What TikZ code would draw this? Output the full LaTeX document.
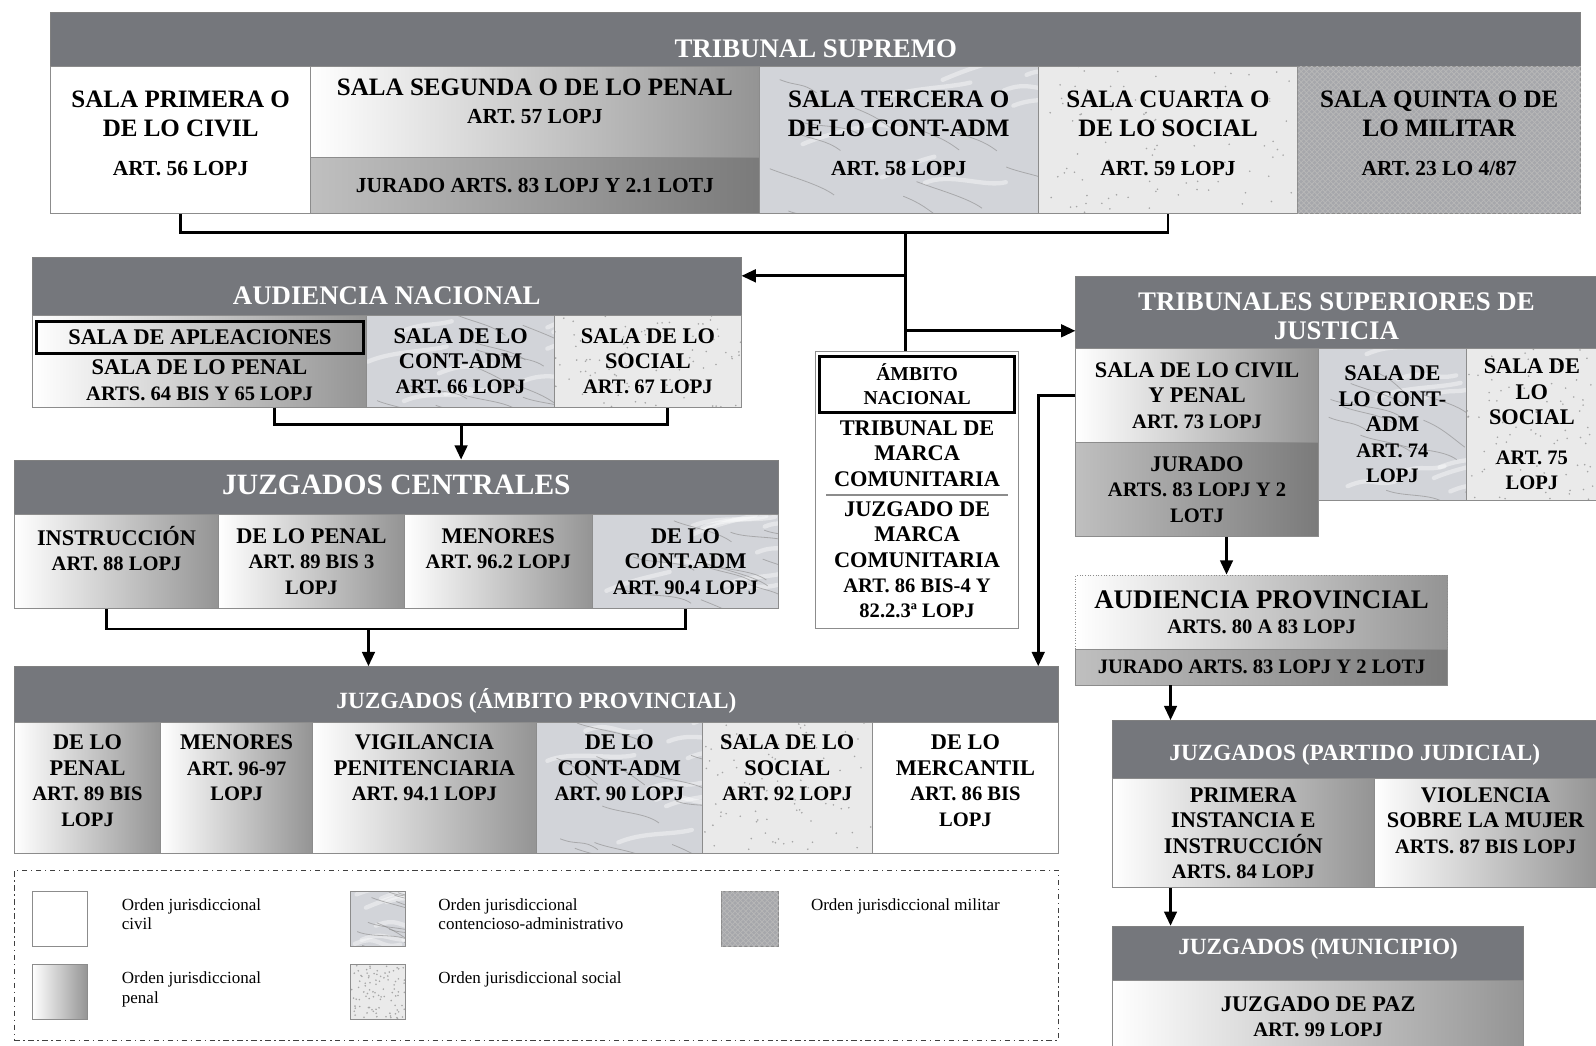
\documentclass[tikz,border=0pt]{standalone}
\usepackage{fontspec}
\setmainfont{Liberation Serif}
\usepackage{tikz}
\usetikzlibrary{arrows.meta,fit,positioning,calc,patterns}

\definecolor{headgray}{RGB}{117,119,124}
\definecolor{marblebase}{RGB}{210,212,217}
\definecolor{socialbase}{RGB}{234,234,234}
\definecolor{militarbase}{RGB}{166,167,171}

\newcommand\hdfont{\fontsize{15}{16.5}\selectfont\bfseries}
\newcommand\jcfont{\fontsize{16.5}{18}\selectfont\bfseries}
\newcommand\subhdfont{\fontsize{13}{14.5}\selectfont\bfseries}
\newcommand\bigcellfont{\fontsize{14}{16}\selectfont\bfseries}
\newcommand\cellfont{\fontsize{12.5}{14.2}\selectfont\bfseries}
\newcommand\artsize{\fontsize{11.5}{13}\selectfont}
\newcommand\bigart{\fontsize{12}{14}\selectfont}
\newcommand\legfont{\fontsize{9.5}{10.8}\selectfont}

% marble veins (contencioso-administrativo)
\newcommand\marblefx{%
  \foreach \k in {1,...,9}{%
    \draw[white, line width=2.4pt, opacity=.4, line cap=round]
      let \p1=(path picture bounding box.south west),
          \p2=(path picture bounding box.north east) in
      ({\x1+rnd*(\x2-\x1)},{\y1+rnd*(\y2-\y1)})
        .. controls +(14pt,6pt) and +(-12pt,-3pt) .. +({25pt+25pt*rnd},{14pt*rnd-2pt});
  }%
  \foreach \k in {1,...,11}{%
    \draw[black!45, line width=.45pt, opacity=.6]
      let \p1=(path picture bounding box.south west),
          \p2=(path picture bounding box.north east) in
      ({\x1+rnd*(\x2-\x1)},{\y1+rnd*(\y2-\y1)})
        .. controls +(10pt,-4pt) and +(-8pt,6pt) .. +({20pt+20pt*rnd},{-6pt-10pt*rnd});
  }%
}
% specks (social)
\newcommand\socialfx{%
  \foreach \k in {1,...,90}{%
    \fill[black!35]
      let \p1=(path picture bounding box.south west),
          \p2=(path picture bounding box.north east) in
      ({\x1+rnd*(\x2-\x1)},{\y1+rnd*(\y2-\y1)}) circle (.5pt);
  }%
}

\tikzset{
    %Define standard arrow tip
    >={Triangle[length=8pt, width=7pt]},
    %Define style for boxes
    cell/.style={
           rectangle,
           draw=black!45, line width=.5pt,
           inner sep=0pt},
    civil/.style={cell, fill=white},
    penal/.style={cell, left color=white, right color=black!42},
    jurado/.style={cell, left color=black!25, right color=black!52},
    contadm/.style={cell, fill=marblebase, path picture={\marblefx}},
    social/.style={cell, fill=socialbase, path picture={\socialfx}},
    militar/.style={
           cell,
           fill=militarbase,
           postaction={pattern=crosshatch, pattern color=white!72!black}},
    headbox/.style={
           rectangle,
           draw=black!50, line width=.5pt,
           fill=headgray,
           inner sep=0pt},
    frame/.style={draw=black, line width=1.6pt, inner sep=0pt},
    % Define style for texts
    celltext/.style={font=\cellfont, align=center, inner sep=0pt},
    hdtext/.style={text=white, font=\hdfont, align=center, inner sep=0pt},
    txt/.style={label={[celltext]center:{#1}}},
    uptxt/.style={label={[celltext, yshift=4pt]center:{#1}}},
    bigtxt/.style={label={[celltext, font=\bigcellfont, yshift=3.5pt]center:{#1}}},
    legframe/.style={draw=black!75, line width=.8pt, dash dot, inner sep=0pt},
    legtext/.style={font=\legfont, align=left, inner sep=0pt},
    % Define connector style
    link/.style={draw=black, line width=1.6pt}
}

\begin{document}
\begin{tikzpicture}[x=0.02cm, y=-0.02cm]
\pgfmathsetseed{7}
\useasboundingbox (0,0) rectangle (1568,1027);

 %Tribunal Supremo
\node[headbox, fit={(50,12) (1553,65)},
  label={[hdtext, yshift=-5.4pt]center:TRIBUNAL SUPREMO}] (tshead) {};
\node[civil, fit={(50,65) (305,210)},
  bigtxt={SALA PRIMERA O\\DE LO CIVIL\\[6pt]\bigart ART. 56 LOPJ}] (ts1) {};
\node[penal, fit={(305,65) (746,155)},
  label={[celltext, font=\bigcellfont, yshift=6pt]center:{SALA SEGUNDA O DE LO PENAL\\\bigart ART. 57 LOPJ}}] (ts2) {};
\node[jurado, fit={(305,155) (746,210)},
  txt={\bigart JURADO ARTS. 83 LOPJ Y 2.1 LOTJ}] (ts2j) {};
\node[contadm, fit={(746,65) (1020,210)},
  bigtxt={SALA TERCERA O\\DE LO CONT-ADM\\[6pt]\bigart ART. 58 LOPJ}] (ts3) {};
\node[social, fit={(1020,65) (1275,210)},
  bigtxt={SALA CUARTA O\\DE LO SOCIAL\\[6pt]\bigart ART. 59 LOPJ}] (ts4) {};
\node[militar, fit={(1275,65) (1553,210)},
  bigtxt={SALA QUINTA O DE\\LO MILITAR\\[6pt]\bigart ART. 23 LO 4/87}] (ts5) {};

 %Audiencia Nacional
\node[headbox, fit={(32,253) (728,310)},
  label={[hdtext, yshift=-5.4pt]center:AUDIENCIA NACIONAL}] (anhead) {};
\node[penal, fit={(32,310) (360,400)}] (an1) {};
\node[frame, fit={(36,316) (357,347)}, txt={SALA DE APLEACIONES}] (an1a) {};
\node[inner sep=0pt, fit={(32,347) (360,400)},
  txt={SALA DE LO PENAL\\\artsize ARTS. 64 BIS Y 65 LOPJ}] (an1b) {};
\node[contadm, fit={(360,310) (545,400)},
  txt={SALA DE LO\\CONT-ADM\\\artsize ART. 66 LOPJ}] (an2) {};
\node[social, fit={(545,310) (728,400)},
  txt={SALA DE LO\\SOCIAL\\\artsize ART. 67 LOPJ}] (an3) {};

 %Juzgados centrales
\node[headbox, fit={(14,452) (765,505)},
  label={[hdtext, font=\jcfont, yshift=1.4pt]center:JUZGADOS CENTRALES}] (jchead) {};
\node[penal, fit={(14,505) (215,598)},
  txt={INSTRUCCIÓN\\\artsize ART. 88 LOPJ\\\phantom{X}}] (jc1) {};
\node[penal, fit={(215,505) (397,598)},
  txt={DE LO PENAL\\\artsize ART. 89 BIS 3\\\artsize LOPJ}] (jc2) {};
\node[penal, fit={(397,505) (582,598)},
  txt={MENORES\\\artsize ART. 96.2 LOPJ\\\phantom{X}}] (jc3) {};
\node[contadm, fit={(582,505) (765,598)},
  txt={DE LO\\CONT.ADM\\\artsize ART. 90.4 LOPJ}] (jc4) {};

 %Juzgados ambito provincial
\node[headbox, fit={(14,655) (1040,710)},
  label={[hdtext, font=\subhdfont, yshift=-3.7pt]center:JUZGADOS (ÁMBITO PROVINCIAL)}] (jphead) {};
\node[penal, fit={(14,710) (158,838)},
  uptxt={DE LO\\PENAL\\\artsize ART. 89 BIS\\\artsize LOPJ}] (jp1) {};
\node[penal, fit={(158,710) (307,838)},
  uptxt={MENORES\\\artsize ART. 96-97\\\artsize LOPJ\\\phantom{X}}] (jp2) {};
\node[penal, fit={(307,710) (527,838)},
  uptxt={VIGILANCIA\\PENITENCIARIA\\\artsize ART. 94.1 LOPJ\\\phantom{X}}] (jp3) {};
\node[contadm, fit={(527,710) (690,838)},
  uptxt={DE LO\\CONT-ADM\\\artsize ART. 90 LOPJ\\\phantom{X}}] (jp4) {};
\node[social, fit={(690,710) (857,838)},
  uptxt={SALA DE LO\\SOCIAL\\\artsize ART. 92 LOPJ\\\phantom{X}}] (jp5) {};
\node[civil, fit={(857,710) (1040,838)},
  uptxt={DE LO\\MERCANTIL\\\artsize ART. 86 BIS\\\artsize LOPJ}] (jp6) {};

 %Ambito nacional
\node[civil, fit={(801,345) (1001,617)}] (ambito) {};
\node[frame, fit={(805,350) (997,405)},
  label={[celltext, font=\fontsize{11}{13}\selectfont\bfseries]center:{ÁMBITO\\NACIONAL}}] (ambnac) {};
\node[inner sep=0pt, fit={(801,405) (1001,486)},
  txt={TRIBUNAL DE\\MARCA\\COMUNITARIA}] (tmc) {};
\draw[black!45, line width=1pt] ([xshift=0.22cm]tmc.south west) -- ([xshift=-0.22cm]tmc.south east);
\node[inner sep=0pt, fit={(801,488) (1001,612)},
  txt={JUZGADO DE\\MARCA\\COMUNITARIA\\\artsize ART. 86 BIS-4 Y\\\artsize 82.2.3ª LOPJ}] (jmc) {};

 %Tribunales superiores de justicia
\node[headbox, fit={(1057,272) (1569,342)},
  label={[hdtext, yshift=-2pt]center:{TRIBUNALES SUPERIORES DE\\JUSTICIA}}] (tsjhead) {};
\node[penal, fit={(1057,342) (1295,435)},
  txt={SALA DE LO CIVIL\\Y PENAL\\\artsize ART. 73 LOPJ}] (tsj1) {};
\node[jurado, fit={(1057,435) (1295,527)},
  txt={JURADO\\\artsize ARTS. 83 LOPJ Y 2\\\artsize LOTJ}] (tsj1j) {};
\node[contadm, fit={(1295,342) (1441,492)},
  txt={SALA DE\\LO CONT-\\ADM\\\artsize ART. 74\\\artsize LOPJ}] (tsj2) {};
\node[social, fit={(1441,342) (1569,492)},
  txt={SALA DE\\LO\\SOCIAL\\[8pt]\artsize ART. 75\\\artsize LOPJ}] (tsj3) {};

 %Audiencia provincial
\node[penal, densely dotted, fit={(1057,565) (1422,638)},
  txt={\hdfont AUDIENCIA PROVINCIAL\\\artsize ARTS. 80 A 83 LOPJ}] (aptop) {};
\node[jurado, fit={(1057,638) (1422,673)},
  txt={\artsize JURADO ARTS. 83 LOPJ Y 2 LOTJ}] (apjur) {};

 %Juzgados partido judicial
\node[headbox, fit={(1093,708) (1569,765)},
  label={[hdtext, font=\subhdfont, yshift=-3pt]center:JUZGADOS (PARTIDO JUDICIAL)}] (jpjhead) {};
\node[penal, fit={(1093,765) (1350,872)},
  txt={PRIMERA\\INSTANCIA E\\INSTRUCCIÓN\\\artsize ARTS. 84 LOPJ}] (jpj1) {};
\node[penal, fit={(1350,765) (1569,872)},
  txt={VIOLENCIA\\SOBRE LA MUJER\\\artsize ARTS. 87 BIS LOPJ\\\phantom{X}}] (jpj2) {};

 %Juzgados municipio
\node[headbox, fit={(1093,910) (1497,963)},
  label={[hdtext, font=\subhdfont, yshift=2.5pt]center:JUZGADOS (MUNICIPIO)}] (jmhead) {};
\node[penal, fit={(1093,963) (1497,1035)},
  txt={JUZGADO DE PAZ\\\artsize ART. 99 LOPJ}] (jm1) {};

 %legend
\node[legframe, fit={(14,855) (1040,1022)}] (legend) {};
\node[civil, fit={(32,876) (86,930)}] (lgciv) {};
\node[penal, fit={(32,948) (86,1002)}] (lgpen) {};
\node[contadm, fit={(344,876) (398,930)}] (lgadm) {};
\node[social, fit={(344,948) (398,1002)}] (lgsoc) {};
\node[militar, fit={(709,876) (765,930)}] (lgmil) {};
\node[legtext, below right=0.14cm and 0.66cm of lgciv.north east] (lgcivt)
  {Orden jurisdiccional\\civil};
\node[legtext, below right=0.14cm and 0.66cm of lgpen.north east] (lgpent)
  {Orden jurisdiccional\\penal};
\node[legtext, below right=0.14cm and 0.64cm of lgadm.north east] (lgadmt)
  {Orden jurisdiccional\\contencioso-administrativo};
\node[legtext, below right=0.14cm and 0.64cm of lgsoc.north east] (lgsoct)
  {Orden jurisdiccional social};
\node[legtext, below right=0.14cm and 0.62cm of lgmil.north east] (lgmilt)
  {Orden jurisdiccional militar};

 %connectors
\coordinate (trunk) at (890,228);
\coordinate (jan) at (890,271);
\coordinate (jtsj) at (890,325);
\draw[link] (ts1.south) |- (trunk) -| (ts4.south);
\draw[link] (trunk) -- (trunk |- ambito.north);
\draw[link,->] (jan) -- (jan -| anhead.east);
\draw[link,->] (jtsj) -- (jtsj -| tsjhead.west);

\coordinate (anM) at (453,417);
\draw[link] ([xshift=1.48cm]an1.south) |- (anM) -| ([xshift=0.38cm]an3.south);
\draw[link,->] (anM) -- (anM |- jchead.north);

\coordinate (jcM) at (362,618);
\draw[link] ([xshift=-0.2cm]jc1.south) |- (jcM) -| (jc4.south);
\draw[link,->] (jcM) -- (jcM |- jphead.north);

\coordinate (xr) at (1020,0);
\draw[link,->] (tsj1.west) -| (xr |- jphead.north);

\coordinate (xap) at (1205,0);
\coordinate (xjpj) at (1150,0);
\draw[link,->] (tsj1j.south -| xap) -- (aptop.north -| xap);
\draw[link,->] (apjur.south -| xjpj) -- (jpjhead.north -| xjpj);
\draw[link,->] (jpj1.south -| xjpj) -- (jmhead.north -| xjpj);
\end{tikzpicture}
\end{document}
